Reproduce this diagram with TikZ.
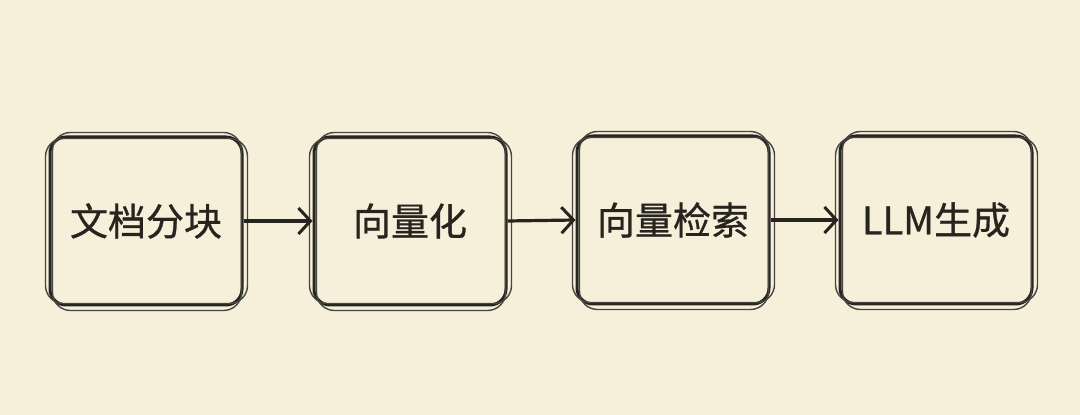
\documentclass[tikz,border=0pt]{standalone}
\usepackage{fontspec}
\newfontfamily\cjk[FakeBold=0.8]{Noto Sans CJK SC}
\usetikzlibrary{arrows.meta,calc}
\definecolor{paper}{HTML}{F6EFD9}
\definecolor{ink}{HTML}{26241F}
\tikzset{
  stage/.style={draw=ink, line width=3pt, rounded corners=16pt,
    minimum width=192pt, minimum height=168pt, inner sep=0pt,
    font=\cjk\fontsize{38}{44}\selectfont, text=ink},
  sketch/.style={draw=ink!85, line width=1.4pt, rounded corners=18pt},
  flow/.style={draw=ink, line width=3.2pt, -{Straight Barb[length=12pt,width=26pt,line width=3pt]}}
}
\begin{document}
\begin{tikzpicture}[x=1pt,y=1pt]
\fill[paper] (0,0) rectangle (1080,415);
\useasboundingbox (0,0) rectangle (1080,415);
\node[stage] (a) at (146,194) {文档分块};
\node[stage] (b) at (410,194) {向量化};
\node[stage] (c) at (673,195) {向量检索};
\node[stage] (d) at (936,195) {LLM生成};
\foreach \n in {a,b,c,d}{
  \draw[sketch] ($(\n.south west)+(4,-4)$) rectangle ($(\n.north east)+(-2,3)$);
  \draw[sketch] ($(\n.south west)+(-3,3)$) rectangle ($(\n.north east)+(4,-3)$);
}
\draw[flow] (a.east) -- (b.west);
\draw[flow] (b.east) -- (c.west);
\draw[flow] (c.east) -- (d.west);
\end{tikzpicture}
\end{document}
